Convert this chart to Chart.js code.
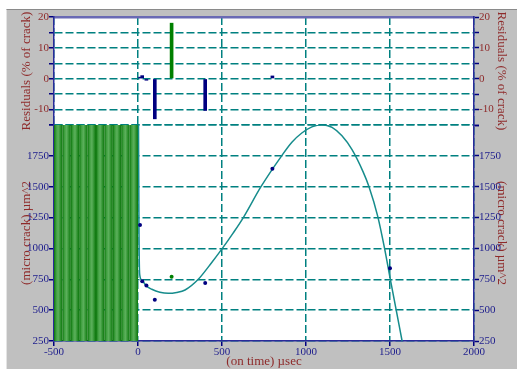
<!DOCTYPE html>
<html lang="en">
<head>
    <meta charset="UTF-8">
    <title>Micro crack fit</title>
    <script src="https://cdn.jsdelivr.net/npm/chart.js"></script>
    <style>
        body { margin: 0; background: #fff; }
        .panel { position: absolute; left: 6px; top: 9px; right: 0; bottom: 0;
                 background: #c0c0c0; border-top: 1px solid #8a8a8a; border-left: 1px solid #e4e4e4; }
        #grafico { position: absolute; left: 0; top: 0; }
    </style>
</head>
<body>
    <div class="panel"></div>
    <canvas id="grafico" width="517" height="369"></canvas>

    <script>
        // measured points
        const tempo = [12, 25, 50, 100, 200, 400, 800, 1500];
        const area = [1190, 735, 700, 585, 770, 720, 1645, 840];
        const residuo = [0.5, 1, -0.5, -13, 18, -10.3, 0.9, null];
        const excluido = [false, false, false, false, true, false, false, false];

        // fitted curve
        const curvaX = [3, 6, 10, 22, 50, 82, 130, 180, 230, 280, 359, 430, 502, 565, 627, 732, 855, 916, 975, 1035, 1095, 1155, 1214, 1274, 1340, 1375, 1427, 1467, 1502, 1537, 1572];
        const curvaY = [2000, 1100, 790, 744, 695, 669, 645, 636, 643, 663, 750, 870, 1000, 1122, 1250, 1500, 1750, 1860, 1935, 1985, 2003, 1980, 1912, 1800, 1620, 1500, 1260, 1005, 750, 500, 250];

        // shaded "off" region
        const faixaX = [-500, 0];
        const faixaY = [2000, 2000];

        const xMin = -500, xMax = 2000, xStep = 500;
        const resMin = -15, resMax = 20, resStep = 5;
        const areaMin = 250, areaMax = 2000, areaStep = 250;

        const azul = '#000080';
        const verde = '#008000';
        const teal = '#008080';
        const vermelho = '#8e2a2a';
        const tickAzul = '#1c1c8c';
        const fonte = 'Liberation Serif';

        const listras = (() => {
            const c = document.createElement('canvas');
            c.width = 84; c.height = 4;
            const g = c.getContext('2d');
            for (let i = 0; i < 10; i++) {
                const x0 = i * 8.4;
                const grad = g.createLinearGradient(x0, 0, x0 + 8.4, 0);
                grad.addColorStop(0, '#0a740a');
                grad.addColorStop(0.25, '#3f9f3f');
                grad.addColorStop(0.5, '#5cb05c');
                grad.addColorStop(0.8, '#2a8e2a');
                grad.addColorStop(1, '#0a740a');
                g.fillStyle = grad;
                g.fillRect(x0, 0, 8.4, 4);
            }
            return g.createPattern(c, 'repeat');
        })();

        const fundo = {
            id: 'fundo',
            afterLayout(chart) {
                listras.setTransform(new DOMMatrix().translate(chart.chartArea.left, 0));
            },
            beforeDraw(chart) {
                const a = chart.chartArea, ctx = chart.ctx;
                ctx.save();
                ctx.fillStyle = '#fff';
                ctx.fillRect(a.left, a.top, a.right - a.left, a.bottom - a.top);
                ctx.restore();
            }
        };

        const gradeY = { color: teal, lineWidth: 1.5, tickColor: azul, tickBorderDash: [1, 0], tickLength: 5, tickWidth: 1.5 };
        const semGrade = { drawOnChartArea: false, tickColor: azul, tickBorderDash: [1, 0], tickLength: 5, tickWidth: 1.5 };
        const borda = { color: '#2a2a9a', width: 1.5, dash: [8, 3] };
        const titulo = (texto, pad) => ({ display: true, text: texto, color: vermelho, font: { family: fonte, size: 13 }, padding: pad });
        const rotRes = v => (v % 10 === 0 ? String(v) : '');
        const rotArea = v => (v === areaMax ? '' : String(v));
        const fonteTick = { family: fonte, size: 11 };

        const ctx = document.getElementById('grafico');
        new Chart(ctx, {
            type: 'line',
            data: {
                datasets: [
                    {
                        type: 'bar',
                        data: tempo.map((t, i) => ({ x: t, y: residuo[i] })),
                        backgroundColor: excluido.map(e => (e ? verde : azul)),
                        barThickness: 3,
                        yAxisID: 'yRes',
                        order: 1
                    },
                    {
                        data: tempo.map((t, i) => ({ x: t, y: area[i] })),
                        showLine: false,
                        pointRadius: 2,
                        pointBorderWidth: 0,
                        pointBackgroundColor: excluido.map(e => (e ? verde : azul)),
                        yAxisID: 'yMain',
                        order: 1
                    },
                    {
                        data: curvaX.map((t, i) => ({ x: t, y: curvaY[i] })),
                        borderColor: '#168c8c',
                        borderWidth: 1.5,
                        pointRadius: 0,
                        cubicInterpolationMode: 'monotone',
                        yAxisID: 'yMain',
                        order: 2
                    },
                    {
                        data: faixaX.map((t, i) => ({ x: t, y: faixaY[i] })),
                        borderWidth: 0,
                        pointRadius: 0,
                        fill: 'start',
                        backgroundColor: listras,
                        yAxisID: 'yMain',
                        order: 3
                    }
                ]
            },
            options: {
                responsive: false,
                animation: false,
                layout: { padding: 0 },
                plugins: { legend: { display: false }, tooltip: { enabled: false } },
                scales: {
                    x: {
                        type: 'linear', position: 'bottom', min: xMin, max: xMax, offset: false,
                        ticks: { stepSize: xStep, color: tickAzul, padding: 0, maxRotation: 0, autoSkip: false, callback: v => String(v), font: fonteTick },
                        grid: { offset: false, color: teal, lineWidth: 1.5, tickColor: azul, tickBorderDash: [1, 0], tickLength: 5 },
                        border: borda,
                        title: titulo('(on time) µsec', { top: 0, bottom: 0 }),
                        afterFit: s => { s.height = 28; }
                    },
                    xTop: {
                        type: 'linear', position: 'top', min: xMin, max: xMax,
                        ticks: { display: false },
                        grid: { display: false },
                        border: { color: '#6a6ab4', width: 2.5 },
                        afterFit: s => { s.height = 17; }
                    },
                    yMain: {
                        type: 'linear', position: 'left', stack: 'esq', stackWeight: 2,
                        min: areaMin, max: areaMax,
                        ticks: { stepSize: areaStep, color: tickAzul, padding: 0, autoSkip: false, callback: rotArea, font: fonteTick },
                        grid: gradeY, border: borda,
                        title: titulo('(micro crack) µm^2', { top: 19, bottom: 0 }),
                        afterFit: s => { s.width = 54; }
                    },
                    yRes: {
                        type: 'linear', position: 'left', stack: 'esq', stackWeight: 1,
                        min: resMin, max: resMax,
                        ticks: { stepSize: resStep, color: vermelho, padding: 0, autoSkip: false, callback: rotRes, font: fonteTick },
                        grid: gradeY, border: borda,
                        title: titulo('Residuals (% of crack)', { top: 19, bottom: 0 }),
                        afterFit: s => { s.width = 54; }
                    },
                    yResR: {
                        type: 'linear', position: 'right', stack: 'dir', stackWeight: 1,
                        min: resMin, max: resMax,
                        ticks: { stepSize: resStep, color: vermelho, padding: 0, autoSkip: false, callback: rotRes, font: fonteTick },
                        grid: semGrade, border: borda,
                        title: titulo('Residuals (% of crack)', { top: 8, bottom: 0 }),
                        afterFit: s => { s.width = 43; }
                    },
                    yMainR: {
                        type: 'linear', position: 'right', stack: 'dir', stackWeight: 2,
                        min: areaMin, max: areaMax,
                        ticks: { stepSize: areaStep, color: tickAzul, padding: 0, autoSkip: false, callback: rotArea, font: fonteTick },
                        grid: semGrade, border: borda,
                        title: titulo('(micro crack) µm^2', { top: 8, bottom: 0 }),
                        afterFit: s => { s.width = 43; }
                    }
                }
            },
            plugins: [fundo]
        });
    </script>
</body>
</html>
